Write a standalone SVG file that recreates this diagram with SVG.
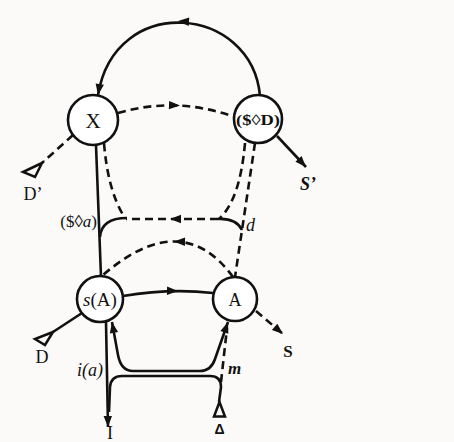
<svg xmlns="http://www.w3.org/2000/svg" xmlns:xlink="http://www.w3.org/1999/xlink" width="454" height="442" viewBox="0 0 454 442">
<style>
.ln{fill:none;stroke:#111;stroke-width:2.6;stroke-linecap:butt;stroke-linejoin:round}
.dash{stroke-dasharray:8 5}
.node{fill:#fff;stroke:#111;stroke-width:2.6}
.term{fill:none;stroke:#111;stroke-width:2.5;stroke-linejoin:miter}
.t{font-family:"Liberation Serif","DejaVu Serif",serif;fill:#111}
.it{font-style:italic}
.end{marker-end:url(#arr)}
</style>
<defs>
<path id="ah" d="M0 0 L-11 -4.2 L-11 4.2 Z" fill="#111"/>
<marker id="arr" markerUnits="userSpaceOnUse" viewBox="-12 -6 13 12" refX="0" refY="0" markerWidth="13" markerHeight="12" orient="auto">
<path d="M0 0 L-11 -4.2 L-11 4.2 Z" fill="#111"/>
</marker>
<marker id="arrs" markerUnits="userSpaceOnUse" viewBox="-12 -6 13 12" refX="0" refY="0" markerWidth="13" markerHeight="12" orient="auto-start-reverse">
<path d="M0 0 L-11 -4.2 L-11 4.2 Z" fill="#111"/>
</marker>
</defs>
<rect width="454" height="442" fill="#fbfaf8"/>
<g id="connectors">
<path class="ln end" d="M260 96 C252 5 115 -8 98 95"/>
<use xlink:href="#ah" href="#ah" transform="translate(178 21) rotate(184)"/>
<path class="ln dash" d="M118 113 Q176 96 235 117"/>
<use xlink:href="#ah" href="#ah" transform="translate(180 105.5) rotate(2)"/>
<path class="ln end" d="M277 136 L306 167"/>
<path class="ln dash" d="M73 135 L42 163"/>
<path class="ln" d="M96 145 L101 277"/>
<path class="ln dash" d="M104 143 Q108 192 125 218"/>
<path class="ln dash" d="M218 219 L126 219"/>
<use xlink:href="#ah" href="#ah" transform="translate(170 219) rotate(180)"/>
<path class="ln" d="M127 218 C110 218 101 224 100 237"/>
<path class="ln" d="M218 219 Q236 218 242 230"/>
<path class="ln dash" d="M245 143 Q240 200 219 219"/>
<path class="ln dash" d="M255 143 L235 277"/>
<path class="ln dash" d="M233 277 Q182 207 103 275"/>
<use xlink:href="#ah" href="#ah" transform="translate(174 241.5) rotate(181)"/>
<path class="ln" d="M123 296 Q170 288 213 293"/>
<use xlink:href="#ah" href="#ah" transform="translate(178 291) rotate(1)"/>
<path class="ln dash end" d="M256 311 L283 334"/>
<path class="ln" d="M82 313 L53 332"/>
<path class="ln end" d="M106 322 L108 427"/>
<path class="ln" style="marker-start:url(#arrs);marker-end:url(#arr)" d="M112 322 L118 355 Q121 371 133 371 L200 371 Q211 371 215 359 L228 322"/>
<path class="ln" d="M219 402 L221 387 Q221 376 210 376 L122 376 Q111 376 110 387 L109 412"/>
<path class="ln dash" d="M221 382 L227 328"/>
</g>
<g id="node-X">
<circle class="node" cx="93" cy="120" r="25"/>
<text class="t" x="93" y="127.5" font-size="21" text-anchor="middle">X</text>
</g>
<g id="node-SD">
<circle class="node" cx="258" cy="119" r="24"/>
<text class="t" x="258" y="125" font-size="15" font-weight="bold" text-anchor="middle" textLength="44" lengthAdjust="spacingAndGlyphs">($◊D)</text>
</g>
<g id="node-sA">
<circle class="node" cx="100" cy="299" r="23"/>
<text class="t" x="100" y="305.5" font-size="19" text-anchor="middle"><tspan class="it">s</tspan>(A)</text>
</g>
<g id="node-A">
<circle class="node" cx="235" cy="299" r="22"/>
<text class="t" x="235" y="305.5" font-size="18" text-anchor="middle">A</text>
</g>
<g id="term-Dp">
<polygon class="term" points="42,163 23,172 35,177"/>
<text class="t" x="33" y="200" font-size="18" text-anchor="middle">D’</text>
</g>
<g id="term-D">
<polygon class="term" points="53,332 35,339 45,345"/>
<text class="t" x="42" y="363" font-size="18" text-anchor="middle">D</text>
</g>
<g id="term-Delta">
<polygon class="term" points="219.5,402 214,416.5 225,416.5"/>
<text x="219.5" y="434" font-size="14" font-weight="bold" font-family="Liberation Sans, sans-serif" fill="#111" text-anchor="middle">Δ</text>
</g>
<g id="label-Sp"><text class="t it" x="308" y="190" font-size="18" font-weight="bold" text-anchor="middle">S’</text></g>
<g id="label-S"><text class="t" x="288" y="357" font-size="17" font-weight="bold" text-anchor="middle">S</text></g>
<g id="label-I"><text class="t" x="110" y="439" font-size="18" text-anchor="middle">I</text></g>
<g id="label-Sa"><text class="t" x="97" y="227" font-size="17" text-anchor="end">($◊<tspan class="it">a</tspan>)</text></g>
<g id="label-d"><text class="t it" x="246" y="231" font-size="18">d</text></g>
<g id="label-ia"><text class="t it" x="103" y="376" font-size="18" text-anchor="end">i(a)</text></g>
<g id="label-m"><text class="t it" x="228" y="374" font-size="17" font-weight="bold">m</text></g>
</svg>
